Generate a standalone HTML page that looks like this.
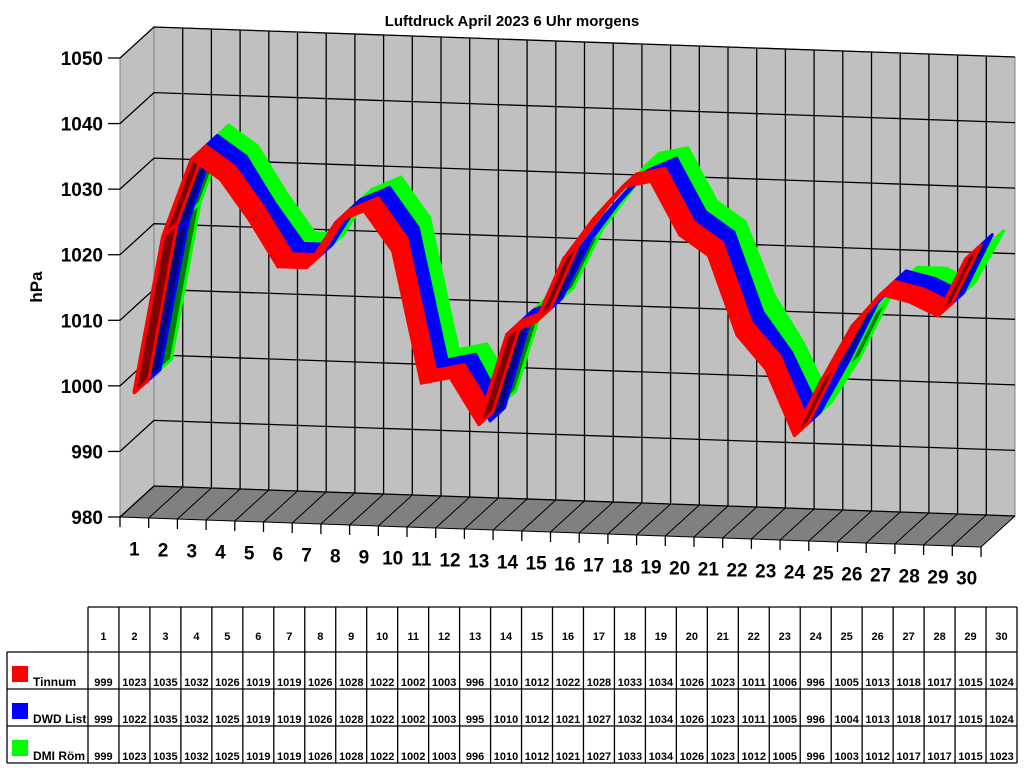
<!DOCTYPE html>
<html><head><meta charset="utf-8"><style>
body{margin:0;background:#fff;width:1024px;height:768px;overflow:hidden;font-family:"Liberation Sans",Arial,sans-serif}
svg{position:absolute;left:0;top:0}
</style></head><body>
<svg id="chart" width="1024" height="768" xmlns="http://www.w3.org/2000/svg" font-family="Liberation Sans, Arial, sans-serif"></svg>
<script>
const days = [1,2,3,4,5,6,7,8,9,10,11,12,13,14,15,16,17,18,19,20,21,22,23,24,25,26,27,28,29,30];
const tinnum = [999,1023,1035,1032,1026,1019,1019,1026,1028,1022,1002,1003,996,1010,1012,1022,1028,1033,1034,1026,1023,1011,1006,996,1005,1013,1018,1017,1015,1024];
const dwdList = [999,1022,1035,1032,1025,1019,1019,1026,1028,1022,1002,1003,995,1010,1012,1021,1027,1032,1034,1026,1023,1011,1005,996,1004,1013,1018,1017,1015,1024];
const dmiRom = [999,1023,1035,1032,1025,1019,1019,1026,1028,1022,1002,1003,996,1010,1012,1021,1027,1033,1034,1026,1023,1012,1005,996,1003,1012,1017,1017,1015,1023];
const yTicks = [980,990,1000,1010,1020,1030,1040,1050];
const seriesNames = ["Tinnum","DWD List","DMI Röm"];
const seriesColors = ["#ff0000","#0000ff","#00ff00"];

const svg = document.getElementById('chart');
const NS = 'http://www.w3.org/2000/svg';
const X0 = 120, X1 = 981, Y0 = 517, SKEW = 30, YMIN = 980, YMAX = 1050, PXPER = 459/70;
const DX = 34, DY = -31;
const n = days.length;
const cw = (X1 - X0) / n;
function fx(i){ return X0 + i*cw; }            // boundary index -> x
function fy(x, v){ return Y0 + (x - X0)*SKEW/(X1-X0) - (v - YMIN)*PXPER; }
function P(x, v, d){ return [x + DX*d, fy(x, v) + DY*d]; }
function add(tag, attrs, parent){ const e=document.createElementNS(NS,tag); for(const k in attrs) e.setAttribute(k, attrs[k]); (parent||svg).appendChild(e); return e; }
function pts(a){ return a.map(p=>p[0].toFixed(1)+','+p[1].toFixed(1)).join(' '); }

// title
let t = add('text',{x:512,y:26,'text-anchor':'middle','font-size':'15','font-weight':'bold'});


t.textContent='Luftdruck April 2023 6 Uhr morgens';

// back wall
let bw = add('polygon',{points:pts([P(X0,YMIN,1),P(X1,YMIN,1),P(X1,YMAX,1),P(X0,YMAX,1)]),fill:'#c0c0c0',stroke:'#808080'});


// left wall
let lw = add('polygon',{points:pts([P(X0,YMIN,0),P(X0,YMIN,1),P(X0,YMAX,1),P(X0,YMAX,0)]),fill:'#c0c0c0',stroke:'#808080'});


// floor
let fl = add('polygon',{points:pts([P(X0,YMIN,0),P(X1,YMIN,0),P(X1,YMIN,1),P(X0,YMIN,1)]),fill:'#808080'});



// gridlines
yTicks.forEach(v=>{
  const a=P(X0,v,0), b=P(X0,v,1), c=P(X1,v,1);
  let g = add('polyline',{points:pts([a,b,c]),fill:'none',stroke:'#000','stroke-width':'1.3'});
  
  
  let tk = add('line',{x1:X0-12,y1:a[1],x2:X0,y2:a[1],stroke:'#000','stroke-width':'1.3'});
  
  
  let lb = add('text',{x:X0-17,y:a[1]+7,'text-anchor':'end','font-size':'19','font-weight':'bold'});
  
  
  lb.textContent = v;
});
for(let i=1;i<n;i++){
  const b=P(fx(i),YMIN,1), c=P(fx(i),YMAX,1);
  let g = add('line',{x1:b[0],y1:b[1],x2:c[0],y2:c[1],stroke:'#000','stroke-width':'1.3'});
  
  
}
for(let i=0;i<=n;i++){
  const a=P(fx(i),YMIN,0), b=P(fx(i),YMIN,1);
  let g = add('line',{x1:a[0],y1:a[1],x2:b[0],y2:b[1],stroke:'#000','stroke-width':'1'});
  
  
  let tk = add('line',{x1:a[0],y1:a[1],x2:a[0],y2:a[1]+10,stroke:'#000','stroke-width':'1.3'});
  
  
}
let base = add('line',{x1:X0,y1:Y0,x2:X1,y2:fy(X1,YMIN),stroke:'#000','stroke-width':'1'});


days.forEach((d,i)=>{
  const x = fx(i+0.5);
  let lb = add('text',{x:x,y:fy(x,YMIN)+38,'text-anchor':'middle','font-size':'19','font-weight':'bold'});
  
  
  lb.textContent = d;
});
let yt = add('text',{x:42,y:287,'text-anchor':'middle','font-size':'17','font-weight':'bold',transform:'rotate(-90 42 287)'});


yt.textContent='hPa';

// ribbons: back to front
const allSeries = [tinnum, dwdList, dmiRom];
const dark = ["#800000","#000080","#008000"];
for(let s=2;s>=0;s--){
  const vals = allSeries[s];
  const d0 = s/3, d1 = s/3 + 0.42;
  const grp = add('g',{});
  
  
  for(let i=0;i<n-1;i++){
    const xa=fx(i+0.5), xb=fx(i+1.5);
    const poly=[P(xa,vals[i],d0),P(xb,vals[i+1],d0),P(xb,vals[i+1],d1),P(xa,vals[i],d1)];
    const rising = vals[i+1] > vals[i];
    let q = add('polygon',{points:pts(poly),fill:rising && (vals[i+1]-vals[i])>8 ? dark[s] : seriesColors[s],stroke:seriesColors[s],'stroke-width':'3','stroke-linejoin':'round'},grp);
    
    
    if(rising && (vals[i+1]-vals[i])>8){
      // front edge highlight
      let e = add('polyline',{points:pts([P(xa,vals[i],d0),P(xb,vals[i+1],d0)]),fill:'none',stroke:seriesColors[s],'stroke-width':'4'},grp);
      
      
    }
  }
}

// data table
const TX=88, TR=1017, cW=(TR-TX)/n;
const rowsY=[607,652,689,726,763];
const tb = add('g',{});


for(let i=0;i<=n;i++){
  let l=add('line',{x1:TX+i*cW,y1:607,x2:TX+i*cW,y2:763,stroke:'#000','stroke-width':'1.3'},tb);
  
  
}
let lv=add('line',{x1:7,y1:652,x2:7,y2:763,stroke:'#000','stroke-width':'1.3'},tb);


rowsY.forEach((y,k)=>{
  let l=add('line',{x1:k==0?TX:7,y1:y,x2:TR,y2:y,stroke:'#000','stroke-width':'1.3'},tb);
  
  
});
days.forEach((d,i)=>{
  let c=add('text',{x:TX+(i+0.5)*cW,y:640,'text-anchor':'middle','font-size':'11','font-weight':'bold'},tb);
  
  
  c.textContent=d;
});
allSeries.forEach((vals,s)=>{
  const yb = rowsY[s+1]+34;
  let sw=add('rect',{x:12,y:rowsY[s+1]+14,width:16,height:16,fill:seriesColors[s]},tb);
  
  
  let nm=add('text',{x:33,y:yb,'font-size':'12','font-weight':'bold'},tb);
  
  
  nm.textContent=seriesNames[s];
  vals.forEach((v,i)=>{
    let c=add('text',{x:TX+(i+0.5)*cW,y:yb,'text-anchor':'middle','font-size':'11','font-weight':'bold'},tb);
    
    
    c.textContent=v;
  });
});
</script>
</body></html>
